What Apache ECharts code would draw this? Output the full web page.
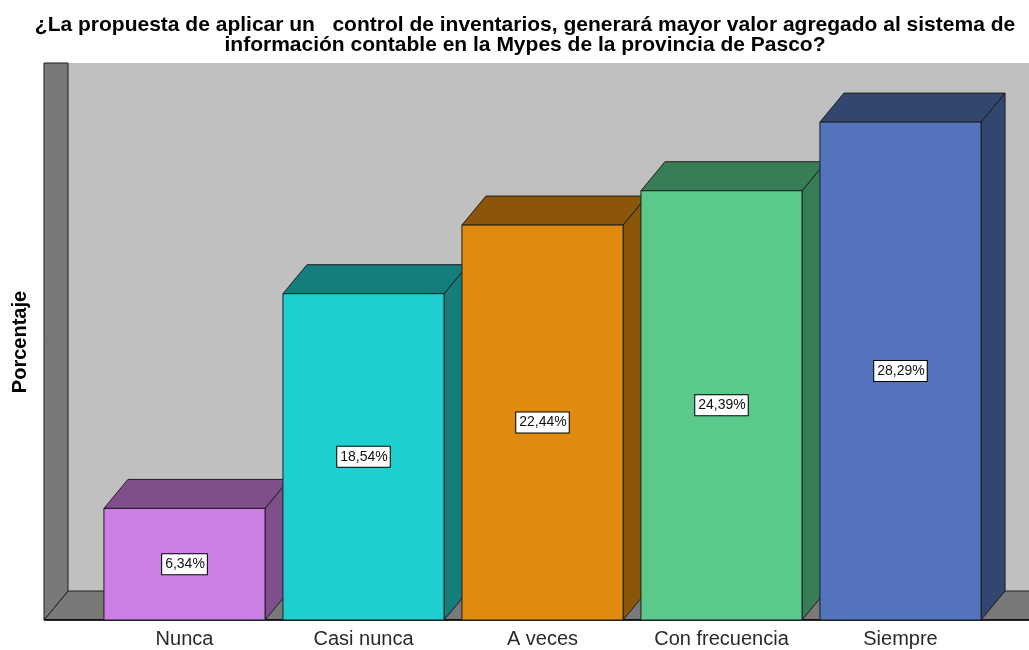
<!DOCTYPE html>
<html>
<head>
<meta charset="utf-8">
<script src="https://cdn.jsdelivr.net/npm/echarts@6/dist/echarts.min.js"></script>
<style>
  html, body { margin: 0; padding: 0; background: #fff; }
  #chart { width: 1029px; height: 650px; }
</style>
</head>
<body>
<div id="chart"></div>
<script>
// datos del gráfico
var categorias = ['Nunca', 'Casi nunca', 'A veces', 'Con frecuencia', 'Siempre'];
var porcentajes = [6.34, 18.54, 22.44, 24.39, 28.29];
var etiquetas = ['6,34%', '18,54%', '22,44%', '24,39%', '28,29%'];
var coloresFrente = ['#CC7FE4', '#1DCFCF', '#E08A10', '#5BC98B', '#5374BD'];
var coloresSombra = ['#7E4F8B', '#137E7C', '#8B5609', '#377D55', '#334670'];

var fuente = "'Liberation Sans', Arial, sans-serif";
// profundidad 3D (px)
var DX = 24, DY = 29;
var linea = '#1e1e1e';

var chart = echarts.init(document.getElementById('chart'));

// paredes y piso del gráfico 3D
function renderMarco(params, api) {
  var cs = params.coordSys;
  var L = cs.x - 51;              // borde frontal izquierdo
  var R = cs.x + cs.width + 60;   // se corta en el borde del lienzo
  var yTop = cs.y - DY;
  var yBase = cs.y + cs.height;
  var yFondo = yBase - DY;
  return {
    type: 'group',
    children: [
      { type: 'rect', shape: { x: L + DX, y: yTop, width: R - L - DX, height: yFondo - yTop },
        style: { fill: '#C0C0C0' } },
      { type: 'polygon', shape: { points: [[L, yBase], [L + DX, yFondo], [R, yFondo], [R, yBase]] },
        style: { fill: '#797979', stroke: linea, lineWidth: 1 } },
      { type: 'polygon', shape: { points: [[L, yTop], [L + DX, yTop], [L + DX, yFondo], [L, yBase]] },
        style: { fill: '#797979', stroke: linea, lineWidth: 1 } },
      { type: 'line', shape: { x1: L, y1: yBase, x2: R, y2: yBase },
        style: { stroke: '#000', lineWidth: 1.5 } }
    ]
  };
}

function renderBarra(params, api) {
  var i = params.dataIndex;
  var tope = api.coord([i, api.value(1)]);
  var base = api.coord([i, 0]);
  var w = api.size([1, 0])[0] * 0.9;
  var x0 = tope[0] - w / 2, x1 = tope[0] + w / 2;
  var y0 = tope[1], y1 = base[1];
  return {
    type: 'group',
    children: [
      { type: 'polygon', shape: { points: [[x1, y0], [x1 + DX, y0 - DY], [x1 + DX, y1 - DY], [x1, y1]] },
        style: { fill: coloresSombra[i], stroke: linea, lineWidth: 1 } },
      { type: 'polygon', shape: { points: [[x0, y0], [x0 + DX, y0 - DY], [x1 + DX, y0 - DY], [x1, y0]] },
        style: { fill: coloresSombra[i], stroke: linea, lineWidth: 1 } },
      { type: 'rect', shape: { x: x0, y: y0, width: w, height: y1 - y0 },
        style: { fill: coloresFrente[i], stroke: linea, lineWidth: 1 } },
      { type: 'text', x: tope[0], y: (y0 + y1) / 2,
        style: {
          text: etiquetas[i], fill: '#111', font: '14px ' + fuente,
          align: 'center', verticalAlign: 'middle',
          backgroundColor: '#fff', borderColor: '#000', borderWidth: 1, padding: [3, 2, 3, 3]
        } }
    ]
  };
}

var option = {
  animation: false,
  backgroundColor: '#fff',
  grid: { left: 95, right: 39, top: 92, bottom: 30 },
  xAxis: {
    type: 'category',
    data: categorias,
    axisLine: { show: false },
    axisTick: { show: false },
    axisLabel: { color: '#2a2a2a', fontSize: 20, fontFamily: fuente, margin: 9, interval: 0 }
  },
  yAxis: {
    type: 'value', min: 0, max: 30,
    show: false
  },
  graphic: [
    { type: 'text', x: 525, y: 15, z: 10,
      style: {
        text: '¿La propuesta de aplicar un   control de inventarios, generará mayor valor agregado al sistema de\ninformación contable en la Mypes de la provincia de Pasco?',
        font: 'bold 21px ' + fuente, fill: '#000', align: 'center', lineHeight: 20
      } },
    { type: 'text', x: 20, y: 342, rotation: Math.PI / 2, z: 10,
      style: {
        text: 'Porcentaje', font: 'bold 20px ' + fuente, fill: '#000',
        align: 'center', verticalAlign: 'middle'
      } }
  ],
  series: [
    { type: 'custom', z: 1, silent: true, renderItem: renderMarco, data: [[0, 0]] },
    {
      type: 'custom', z: 2,
      renderItem: renderBarra,
      data: porcentajes.map(function (v, i) { return [i, v]; })
    }
  ]
};
chart.setOption(option);
</script>
</body>
</html>
